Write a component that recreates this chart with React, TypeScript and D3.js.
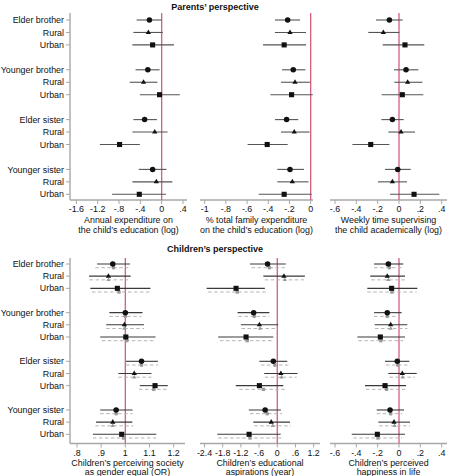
import React, { useEffect, useRef } from 'react'
import * as d3 from 'd3'

// rows, top to bottom; slot gives the vertical position (gaps between groups)
const rowLabels = ['Elder brother', 'Rural', 'Urban', 'Younger brother', 'Rural', 'Urban',
  'Elder sister', 'Rural', 'Urban', 'Younger sister', 'Rural', 'Urban']
const rowSlots = [0, 1, 2, 4, 5, 6, 8, 9, 10, 12, 13, 14]
const rowShapes = ['circle', 'triangle', 'square', 'circle', 'triangle', 'square',
  'circle', 'triangle', 'square', 'circle', 'triangle', 'square']

// Parents' perspective
const spendEst = [-0.23, -0.25, -0.17, -0.26, -0.34, -0.04, -0.32, -0.13, -0.79, -0.17, -0.10, -0.42]
const spendLo = [-0.47, -0.53, -0.55, -0.49, -0.60, -0.41, -0.53, -0.55, -1.16, -0.43, -0.55, -0.93]
const spendHi = [0.0, 0.02, 0.23, -0.04, -0.08, 0.34, -0.09, 0.11, -0.41, 0.09, 0.20, 0.08]
const spendTicks = [-1.6, -1.2, -0.8, -0.4, 0, 0.4]

const shareEst = [-0.217, -0.195, -0.25, -0.164, -0.148, -0.18, -0.227, -0.155, -0.41, -0.195, -0.173, -0.25]
const shareLo = [-0.337, -0.337, -0.45, -0.27, -0.28, -0.38, -0.337, -0.28, -0.595, -0.315, -0.315, -0.49]
const shareHi = [-0.10, -0.044, -0.044, -0.05, -0.007, 0.02, -0.117, -0.01, -0.217, -0.063, -0.02, 0.01]
const shareTicks = [-1, -0.8, -0.6, -0.4, -0.2, 0]

const superEst = [-0.09, -0.147, 0.056, 0.066, 0.081, 0.031, -0.062, 0.019, -0.265, -0.012, -0.062, 0.141]
const superLo = [-0.216, -0.288, -0.153, -0.047, -0.044, -0.162, -0.165, -0.10, -0.437, -0.131, -0.197, -0.084]
const superHi = [0.035, 0.003, 0.237, 0.181, 0.219, 0.228, 0.044, 0.15, -0.09, 0.11, 0.075, 0.378]
const superTicks = [-0.6, -0.4, -0.2, 0, 0.2, 0.4]

// Children's perspective (second set = alternative specification, dashed)
const equalEst = [0.948, 0.93, 0.967, 1.0, 0.996, 1.002, 1.067, 1.037, 1.123, 0.962, 0.948, 0.985]
const equalLo = [0.883, 0.85, 0.855, 0.934, 0.921, 0.896, 1.003, 0.971, 1.06, 0.896, 0.879, 0.866]
const equalHi = [1.019, 1.022, 1.104, 1.071, 1.077, 1.125, 1.135, 1.108, 1.176, 1.03, 1.029, 1.128]
const equalEst2 = [0.951, 0.93, 0.974, 1.0, 0.996, 1.006, 1.067, 1.037, 1.118, 0.962, 0.948, 0.992]
const equalLo2 = [0.876, 0.852, 0.862, 0.934, 0.921, 0.903, 1.003, 0.971, 1.057, 0.896, 0.876, 0.866]
const equalHi2 = [1.012, 1.012, 1.101, 1.067, 1.077, 1.118, 1.135, 1.108, 1.175, 1.03, 1.033, 1.128]
const equalTicks = [0.8, 0.9, 1, 1.1, 1.2]

const aspEst = [-0.32, 0.22, -1.36, -0.78, -0.59, -1.03, -0.13, 0.12, -0.59, -0.40, -0.20, -0.93]
const aspLo = [-0.90, -0.46, -2.33, -1.31, -1.20, -1.95, -0.59, -0.43, -1.37, -0.94, -0.79, -1.98]
const aspHi = [0.28, 0.91, -0.41, -0.26, 0.03, -0.13, 0.33, 0.67, 0.20, 0.12, 0.42, 0.11]
const aspEst2 = [-0.26, 0.25, -1.32, -0.76, -0.57, -0.99, -0.08, 0.14, -0.46, -0.33, -0.15, -0.90]
const aspLo2 = [-0.85, -0.41, -2.28, -1.28, -1.18, -1.89, -0.54, -0.41, -1.25, -0.90, -0.76, -1.95]
const aspHi2 = [0.25, 0.88, -0.37, -0.26, 0.01, -0.11, 0.42, 0.64, 0.25, 0.15, 0.45, 0.14]
const aspTicks = [-2.4, -1.8, -1.2, -0.6, 0, 0.6, 1.2]

const happyEst = [-0.10, -0.11, -0.069, -0.11, -0.078, -0.175, -0.016, 0.031, -0.131, -0.084, -0.047, -0.203]
const happyLo = [-0.234, -0.27, -0.297, -0.234, -0.228, -0.39, -0.131, -0.10, -0.319, -0.209, -0.194, -0.443]
const happyHi = [0.04, 0.056, 0.172, 0.025, 0.078, 0.056, 0.097, 0.166, 0.066, 0.047, 0.103, 0.056]
const happyEst2 = [-0.09, -0.10, -0.066, -0.11, -0.078, -0.17, -0.012, 0.034, -0.116, -0.078, -0.041, -0.197]
const happyLo2 = [-0.234, -0.26, -0.297, -0.234, -0.225, -0.38, -0.122, -0.09, -0.31, -0.209, -0.187, -0.428]
const happyHi2 = [0.025, 0.066, 0.165, 0.0, 0.078, 0.04, 0.103, 0.15, 0.06, 0.031, 0.103, 0.031]
const happyTicks = [-0.6, -0.4, -0.2, 0, 0.2, 0.4]

const W = 451
const H = 476
const FONT = '"Liberation Sans", Arial, Helvetica, sans-serif'
const RED = '#d2607c'
const AXIS = '#a8a8a8'

// Stata style labels: -.4, .6, 0 (plain hyphen for the sign)
const fmt = (v: number) => {
  const s = d3.format('~g')(+v.toFixed(2)).replace('\u2212', '-')
  return s.replace(/^(-?)0\./, '$1.')
}

const symbolFor = (s: string) =>
  s === 'circle' ? d3.symbolCircle : s === 'triangle' ? d3.symbolTriangle : d3.symbolSquare

type Panel = {
  domain: [number, number]
  range: [number, number]
  ticks: number[]
  ref: number
  title: string[]
  est: number[]
  lo: number[]
  hi: number[]
  est2?: number[]
  lo2?: number[]
  hi2?: number[]
}

const App = () => {
  const ref = useRef<SVGSVGElement>(null)

  useEffect(() => {
    const svg = d3.select(ref.current)
    svg.selectAll('*').remove()
    svg.attr('width', W).attr('height', H)
      .style('position', 'absolute').style('left', 0).style('top', 0)
      .style('background', '#fff')
      .style('font-family', FONT)

    const drawSection = (
      heading: string,
      headingY: number,
      yRange: [number, number],
      plotTop: number,
      axisY: number,
      titleGap: number,
      panels: Panel[]
    ) => {
      const y = d3.scaleLinear().domain([0, 14]).range(yRange)
      const g = svg.append('g')

      g.append('text')
        .attr('x', 215).attr('y', headingY)
        .attr('text-anchor', 'middle')
        .style('font-size', '9px').style('font-weight', 'bold')
        .attr('fill', '#111')
        .text(heading)

      // row labels on the first panel's y axis
      const x0 = panels[0].range[0]
      g.append('line')
        .attr('x1', x0).attr('x2', x0).attr('y1', plotTop).attr('y2', axisY)
        .attr('stroke', AXIS).attr('stroke-width', 1.4)
      rowLabels.forEach((lab, i) => {
        const yy = y(rowSlots[i])
        g.append('line')
          .attr('x1', x0 - 4).attr('x2', x0).attr('y1', yy).attr('y2', yy)
          .attr('stroke', AXIS).attr('stroke-width', 1)
        g.append('text')
          .attr('x', x0 - 6).attr('y', yy).attr('dy', '0.35em')
          .attr('text-anchor', 'end')
          .style('font-size', '8.9px').attr('fill', '#111')
          .text(lab)
      })

      panels.forEach(p => {
        const x = d3.scaleLinear().domain(p.domain).range(p.range)
        const pg = g.append('g')

        // x axis
        pg.append('line')
          .attr('x1', p.range[0]).attr('x2', p.range[1]).attr('y1', axisY).attr('y2', axisY)
          .attr('stroke', AXIS).attr('stroke-width', 1.4)
        p.ticks.forEach(t => {
          pg.append('line')
            .attr('x1', x(t)).attr('x2', x(t)).attr('y1', axisY).attr('y2', axisY + 4)
            .attr('stroke', AXIS).attr('stroke-width', 1)
          pg.append('text')
            .attr('x', x(t)).attr('y', axisY + 12)
            .attr('text-anchor', 'middle')
            .style('font-size', '8.9px').attr('fill', '#111')
            .text(fmt(t))
        })
        const cx = (p.range[0] + p.range[1]) / 2
        p.title.forEach((line, k) => {
          pg.append('text')
            .attr('x', cx).attr('y', axisY + 22.5 + k * titleGap)
            .attr('text-anchor', 'middle')
            .style('font-size', '8.9px').attr('fill', '#111')
            .text(line)
        })

        // reference line
        pg.append('line')
          .attr('x1', x(p.ref)).attr('x2', x(p.ref)).attr('y1', plotTop).attr('y2', axisY)
          .attr('stroke', RED).attr('stroke-width', 1.3)

        // alternative estimates: dashed gray, just below
        if (p.est2 && p.lo2 && p.hi2) {
          const off = 3.7
          p.est2.forEach((v, i) => {
            const yy = y(rowSlots[i]) + off
            pg.append('line')
              .attr('x1', x(p.lo2![i])).attr('x2', x(p.hi2![i]))
              .attr('y1', yy).attr('y2', yy)
              .attr('stroke', '#b4b4b4').attr('stroke-width', 1)
              .attr('stroke-dasharray', '3.5,2.5')
            pg.append('path')
              .attr('transform', `translate(${x(v)},${yy})`)
              .attr('d', d3.symbol().type(symbolFor(rowShapes[i])).size(rowShapes[i] === 'triangle' ? 8 : 11)())
              .attr('fill', '#9a9a9a')
          })
        }

        // main estimates
        p.est.forEach((v, i) => {
          const yy = y(rowSlots[i])
          pg.append('line')
            .attr('x1', x(p.lo[i])).attr('x2', x(p.hi[i]))
            .attr('y1', yy).attr('y2', yy)
            .attr('stroke', p.est2 ? '#3a3a3a' : '#555').attr('stroke-width', 1.1)
          const shp = rowShapes[i]
          pg.append('path')
            .attr('transform', `translate(${x(v)},${yy})`)
            .attr('d', d3.symbol().type(symbolFor(shp)).size(shp === 'triangle' ? 12 : shp === 'square' ? 26 : 24)())
            .attr('fill', '#111')
        })
      })
    }

    drawSection('Parents\u2019 perspective', 10, [20, 194.3], 13, 200, 10.5, [
      {
        domain: [-1.72, 0.475], range: [70, 187], ticks: spendTicks, ref: 0,
        title: ['Annual expenditure on', 'the child\u2019s education (log)'],
        est: spendEst, lo: spendLo, hi: spendHi
      },
      {
        domain: [-1.044, 0.022], range: [200, 313], ticks: shareTicks, ref: 0,
        title: ['% total family expenditure', 'on the child\u2019s education (log)'],
        est: shareEst, lo: shareLo, hi: shareHi
      },
      {
        domain: [-0.647, 0.45], range: [330, 447], ticks: superTicks, ref: 0,
        title: ['Weekly time supervising', 'the child academically (log)'],
        est: superEst, lo: superLo, hi: superHi
      }
    ])

    drawSection('Children\u2019s perspective', 252, [264, 434.3], 258, 443.5, 9.2, [
      {
        domain: [0.771, 1.247], range: [70, 185], ticks: equalTicks, ref: 1,
        title: ['Children\u2019s perceiving society', 'as gender equal (OR)'],
        est: equalEst, lo: equalLo, hi: equalHi, est2: equalEst2, lo2: equalLo2, hi2: equalHi2
      },
      {
        domain: [-2.55, 1.41], range: [200, 320], ticks: aspTicks, ref: 0,
        title: ['Children\u2019s educational', 'aspirations (year)'],
        est: aspEst, lo: aspLo, hi: aspHi, est2: aspEst2, lo2: aspLo2, hi2: aspHi2
      },
      {
        domain: [-0.647, 0.45], range: [330, 447], ticks: happyTicks, ref: 0,
        title: ['Children\u2019s perceived', 'happiness in life'],
        est: happyEst, lo: happyLo, hi: happyHi, est2: happyEst2, lo2: happyLo2, hi2: happyHi2
      }
    ])
  }, [])

  return <svg ref={ref} />
}

export default App
